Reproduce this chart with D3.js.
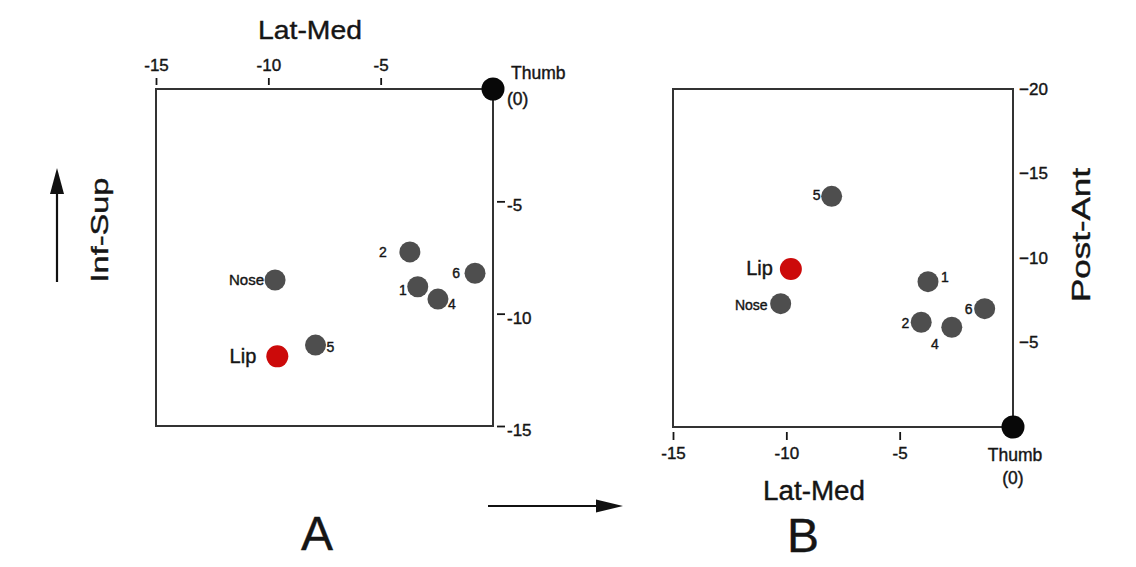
<!DOCTYPE html>
<html>
<head>
<meta charset="utf-8">
<script src="https://cdn.jsdelivr.net/npm/d3@7"></script>
<style>
  html, body { margin: 0; padding: 0; background: #fff; }
  svg { display: block; font-family: "Liberation Sans", Arial, sans-serif; }
  svg text { stroke: #151515; stroke-width: 0.4px; }
</style>
</head>
<body>
<svg id="chart" width="1136" height="567"></svg>
<script>
// point order shared by both panels
const pointNames = ["1", "2", "4", "5", "6", "Nose", "Lip"];

// panel A: lateral-medial vs inferior-superior
const panelALatMed = [-3.35, -3.7, -2.45, -7.9, -0.8, -9.7, -9.6];
const panelAInfSup = [-8.8, -7.25, -9.35, -11.4, -8.2, -8.5, -11.9];

// panel B: lateral-medial vs posterior-anterior
const panelBLatMed = [-3.75, -4.05, -2.7, -8.0, -1.25, -10.25, -9.8];
const panelBPostAnt = [-8.6, -6.2, -5.9, -13.65, -7.0, -7.3, -9.35];

// thumb is the origin in both panels
const thumbPos = [0, 0];

const aTopTicks = [-15, -10, -5];
const aRightTicks = [-5, -10, -15];
const bBottomTicks = [-15, -10, -5];
const bRightTicks = [-20, -15, -10, -5];

// label placement (dx, dy from the dot centre, anchor)
const labelsA = {
    "1": [-11, 8, "end"], "2": [-23, 5, "end"], "4": [10, 10, "start"],
    "5": [11, 7, "start"], "6": [-15, 5, "end"],
    "Nose": [-11, 5, "end"], "Lip": [-21, 7, "end"]
};
const labelsB = {
    "1": [13, 0, "start"], "2": [-12, 6, "end"], "4": [-17, 22, "middle"],
    "5": [-11, 4, "end"], "6": [-12, 5, "end"],
    "Nose": [-13, 6, "end"], "Lip": [-18, 6, "end"]
};

const svg = d3.select("#chart");
const ink = "#151515";
const frameColor = "#333";
const dotGray = "#4e4e4e";
const lipRed = "#cc0a0a";

function drawPanel(opts) {
    const { x, y, xs, ys, labels } = opts;
    const g = svg.append("g");

    // frame
    g.append("rect")
        .attr("x", x(-15))
        .attr("y", Math.min(y.range()[0], y.range()[1]))
        .attr("width", x(0) - x(-15))
        .attr("height", Math.abs(y.range()[1] - y.range()[0]))
        .attr("fill", "none")
        .attr("stroke", frameColor)
        .attr("stroke-width", 2);

    const pts = pointNames.map((n, i) => ({ name: n, lm: xs[i], v: ys[i] }));

    g.selectAll("circle.pt")
        .data(pts)
        .enter()
        .append("circle")
        .attr("class", "pt")
        .attr("cx", d => x(d.lm))
        .attr("cy", d => y(d.v))
        .attr("r", d => d.name === "Lip" ? 11 : 10.5)
        .attr("fill", d => d.name === "Lip" ? lipRed : dotGray);

    g.selectAll("text.pt")
        .data(pts)
        .enter()
        .append("text")
        .attr("class", "pt")
        .attr("x", d => x(d.lm) + labels[d.name][0])
        .attr("y", d => y(d.v) + labels[d.name][1])
        .attr("text-anchor", d => labels[d.name][2])
        .attr("font-size", d => d.name === "Lip" ? 20 : (d.name === "Nose" ? opts.noseSize : 14))
        .attr("fill", ink)
        .text(d => d.name);

    // thumb
    g.append("circle")
        .attr("cx", x(thumbPos[0]))
        .attr("cy", y(thumbPos[1]))
        .attr("r", 11.5)
        .attr("fill", "#080808");

    return g;
}

const xA = d3.scaleLinear().domain([-15, 0]).range([156, 493]);
const yA = d3.scaleLinear().domain([0, -15]).range([89, 426]);
const xB = d3.scaleLinear().domain([-15, 0]).range([673, 1013]);
const yB = d3.scaleLinear().domain([0, -20]).range([427, 89]);

drawPanel({ x: xA, y: yA, xs: panelALatMed, ys: panelAInfSup, labels: labelsA, noseSize: 15 });
drawPanel({ x: xB, y: yB, xs: panelBLatMed, ys: panelBPostAnt, labels: labelsB, noseSize: 14 });

function styleAxis(sel, size) {
    sel.select(".domain").remove();
    sel.selectAll(".tick line").attr("stroke", ink).attr("stroke-width", 1.8);
    sel.selectAll(".tick text").attr("fill", ink).attr("font-size", size)
        .attr("font-family", "Liberation Sans, Arial, sans-serif");
}

// A: top axis
svg.append("g")
    .attr("transform", "translate(0,85)")
    .call(d3.axisTop(xA).tickValues(aTopTicks).tickSize(7).tickPadding(7).tickFormat(d => "-" + Math.abs(d)))
    .call(s => styleAxis(s, 17));

// A: right axis
svg.append("g")
    .attr("transform", "translate(497,0)")
    .call(d3.axisRight(yA).tickValues(aRightTicks).tickSize(8).tickPadding(2).tickFormat(d => "-" + Math.abs(d)))
    .call(s => styleAxis(s, 17))
    .selectAll(".tick text").attr("dy", "0.55em");

// B: bottom axis
svg.append("g")
    .attr("transform", "translate(0,432)")
    .call(d3.axisBottom(xB).tickValues(bBottomTicks).tickSize(8).tickPadding(7).tickFormat(d => "-" + Math.abs(d)))
    .call(s => styleAxis(s, 17));

// B: right axis
svg.append("g")
    .attr("transform", "translate(1013,0)")
    .call(d3.axisRight(yB).tickValues(bRightTicks).tickSize(0).tickPadding(6).tickFormat(d => "\u2212" + Math.abs(d)))
    .call(s => styleAxis(s, 17));

// thumb labels
function thumbLabel(px, py, lines) {
    lines.forEach(l => {
        svg.append("text")
            .attr("x", px + l[0]).attr("y", py + l[1])
            .attr("text-anchor", l[2])
            .attr("font-size", 17.5).attr("fill", ink)
            .text(l[3]);
    });
}
thumbLabel(xA(0), yA(0), [[18, -10, "start", "Thumb"], [14, 16, "start", "(0)"]]);
thumbLabel(xB(0), yB(0), [[2, 34, "middle", "Thumb"], [0, 57, "middle", "(0)"]]);

// axis titles
function title(txt, tx, ty, rot, size, len) {
    svg.append("text")
        .attr("transform", `translate(${tx},${ty}) rotate(${rot})`)
        .attr("text-anchor", "middle")
        .attr("font-size", size)
        .attr("fill", ink)
        .attr("textLength", len)
        .attr("lengthAdjust", "spacingAndGlyphs")
        .text(txt);
}
title("Lat-Med", 310, 39, 0, 26, 104);
title("Lat-Med", 814, 500, 0, 27, 102);
title("Inf-Sup", 108, 230, -90, 24, 105);
title("Post-Ant", 1090, 235, -90, 25, 134);

// panel letters
svg.append("text").attr("x", 317).attr("y", 550).attr("text-anchor", "middle")
    .attr("font-size", 48).attr("fill", ink).text("A");
svg.append("text").attr("x", 803).attr("y", 552).attr("text-anchor", "middle")
    .attr("font-size", 48).attr("fill", ink).text("B");

// direction arrows
svg.append("line").attr("x1", 57).attr("y1", 282).attr("x2", 57).attr("y2", 190)
    .attr("stroke", "#111").attr("stroke-width", 2.2);
svg.append("path").attr("d", "M57,168 L50,194 L64,194 Z").attr("fill", "#111");

svg.append("line").attr("x1", 488).attr("y1", 506).attr("x2", 600).attr("y2", 506)
    .attr("stroke", "#111").attr("stroke-width", 2.2);
svg.append("path").attr("d", "M623,506 L596,499.5 L596,512.5 Z").attr("fill", "#111");
</script>
</body>
</html>
